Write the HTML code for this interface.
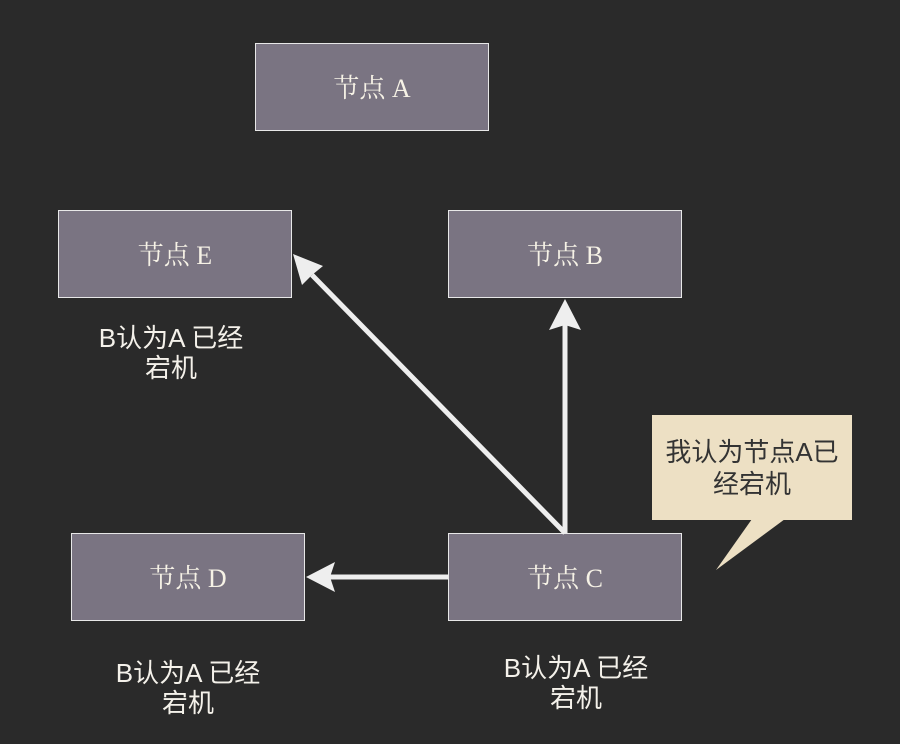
<!DOCTYPE html>
<html><head><meta charset="utf-8"><style>
html,body{margin:0;padding:0;background:#2a2a2a;}
body{width:900px;height:744px;position:relative;overflow:hidden;font-family:"Liberation Sans","Noto Sans CJK SC",sans-serif;}
.box{position:absolute;width:232px;height:86px;background:#7a7482;border:1px solid #e8e8e8;color:#f6f2e6;font-family:"Liberation Serif","Noto Serif CJK SC",serif;font-size:26px;display:flex;align-items:center;justify-content:center;box-sizing:content-box;padding-bottom:2px;height:84px;}
.lbl{position:absolute;color:#f4f1ea;font-size:26px;line-height:30px;text-align:center;width:240px;}
.call{position:absolute;left:652px;top:415px;width:200px;height:105px;background:#ede0c4;color:#333;font-size:26px;line-height:32px;text-align:center;box-sizing:border-box;padding-top:21px;}
svg{position:absolute;left:0;top:0;}
</style></head><body>
<div class="box" style="left:255px;top:43px">节点 A</div>
<div class="box" style="left:58px;top:210px">节点 E</div>
<div class="box" style="left:448px;top:210px">节点 B</div>
<div class="box" style="left:71px;top:533px">节点 D</div>
<div class="box" style="left:448px;top:533px">节点 C</div>
<svg width="900" height="744">
<g stroke="#eeeeee" stroke-width="5" fill="none">
<line x1="565" y1="533" x2="565" y2="325"/>
<line x1="565" y1="533" x2="312" y2="275"/>
<line x1="448" y1="577" x2="330" y2="577"/>
</g>
<g fill="#eeeeee">
<polygon points="565,299 581,330 565,325 549,330"/>
<polygon points="306,577 335,562 330,577 335,592"/>
<polygon points="293,254 323,266 312,275 302,285"/>
<polygon points="752,519 785,519 716,570" fill="#ede0c4"/>
</g>
</svg>
<div class="call">我认为节点A已<br>经宕机</div>
<div class="lbl" style="left:51px;top:323px">B认为A 已经<br>宕机</div>
<div class="lbl" style="left:68px;top:658px">B认为A 已经<br>宕机</div>
<div class="lbl" style="left:456px;top:653px">B认为A 已经<br>宕机</div>
</body></html>
